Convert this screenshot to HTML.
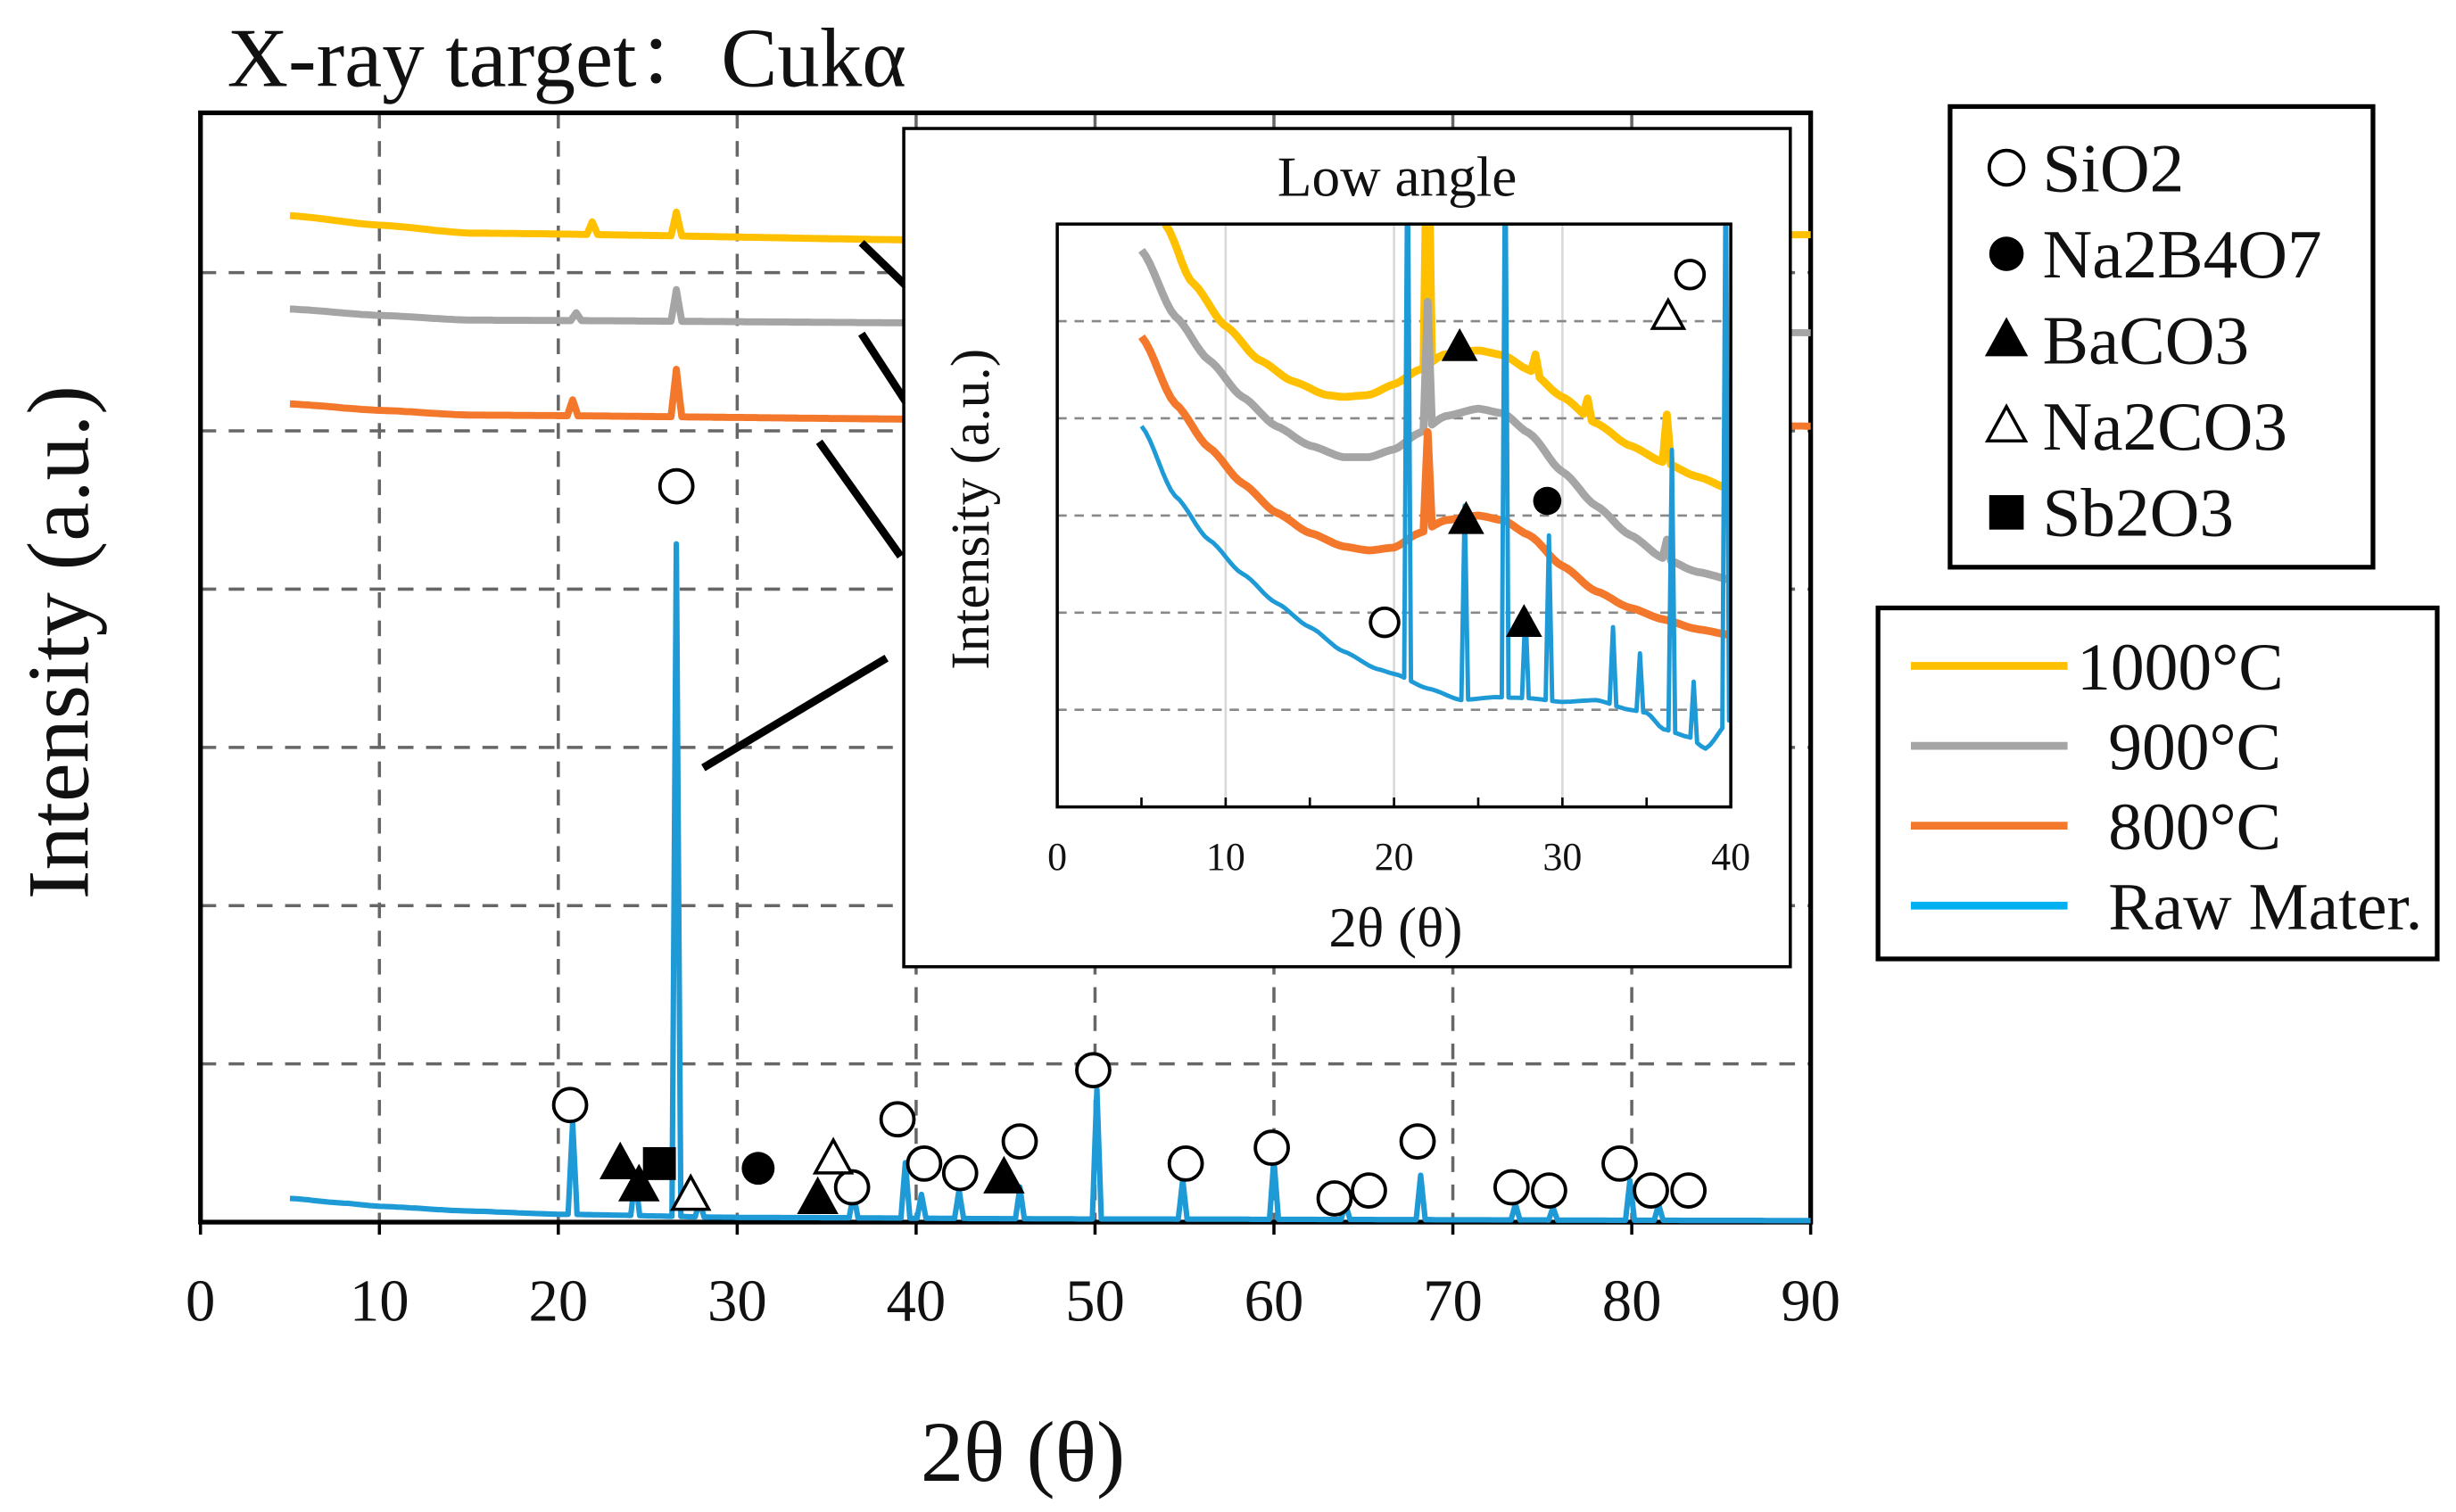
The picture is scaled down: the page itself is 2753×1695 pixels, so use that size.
<!DOCTYPE html>
<html><head><meta charset="utf-8"><style>
html,body{margin:0;padding:0;background:#fff;}
svg{display:block;}
text{font-family:"Liberation Serif","Noto Serif CJK SC",serif;fill:#111;}
</style></head><body>
<svg id="chart" width="2753" height="1695" viewBox="0 0 1568 965" preserveAspectRatio="none" xmlns="http://www.w3.org/2000/svg">
<rect width="1568" height="965" fill="#fff"/>
<text x="145" y="55" font-size="54">X-ray target：Cukα</text>
<text transform="translate(56,410) rotate(-90)" text-anchor="middle" font-size="56">Intensity (a.u.)</text>
<text x="653" y="945" text-anchor="middle" font-size="55">2θ (θ)</text>
<g id="main"></g>
<g id="conn"></g>
<g id="inset"></g>
<g id="legend"></g>
</svg>
<script>
const NS='http://www.w3.org/2000/svg';
// ---------- main chart data ----------
const mainTicks=[0,10,20,30,40,50,60,70,80,90];
const blueBaseX=[5,8,10,15,20,30,50,90];
const blueBaseY=[0.15,0.12,0.10,0.07,0.05,0.03,0.02,0.01];
const bluePeakX=[20.8,24.3,26.6,27.9,36.5,39.4,40.3,42.4,45.8,50.1,54.9,60.0,64.0,68.2,73.5,75.6,79.9,81.5];
const bluePeakH=[0.58,0.25,4.25,0.1,0.15,0.35,0.15,0.18,0.2,0.82,0.25,0.38,0.1,0.28,0.1,0.08,0.25,0.1];
const yelBaseX=[5,10,15,45,90];const yelBaseY=[6.36,6.3,6.25,6.2,6.24];
const yelPeakX=[21.9,26.6];const yelPeakH=[0.08,0.15];
const grayBaseX=[5,10,15,45,90];const grayBaseY=[5.77,5.73,5.7,5.68,5.62];
const grayPeakX=[21.0,26.6];const grayPeakH=[0.05,0.2];
const orgBaseX=[5,10,15,45,90];const orgBaseY=[5.17,5.13,5.1,5.07,5.03];
const orgPeakX=[20.8,26.6];const orgPeakH=[0.1,0.3];
const mkType=['oc','oc','oc','oc','oc','oc','oc','oc','oc','oc','oc','oc','oc','oc','oc','oc','oc','oc','ft','ft','ft','ft','sq','fc','ot','ot'];
const mkX=[20.66,26.6,38.96,40.45,42.46,45.79,49.9,55.07,59.88,63.39,65.31,68.03,73.28,75.38,79.32,81.07,83.17,36.42,23.46,24.51,34.5,44.91,25.65,31.17,27.4,35.37];
const mkY=[0.74,4.65,0.65,0.37,0.31,0.51,0.96,0.37,0.47,0.15,0.2,0.51,0.22,0.2,0.37,0.2,0.2,0.22,0.37,0.23,0.15,0.28,0.37,0.34,0.17,0.4];
// ---------- inset data ----------
const inTicks=[0,10,20,30,40];
const iYelX=[6.4,8,10,12,14,16,17,18.5,20,21.5,23,25,26.5,28,30,32,34,36,38,40];
const iYelY=[6.0,5.4,4.95,4.6,4.38,4.24,4.22,4.24,4.35,4.5,4.66,4.7,4.65,4.5,4.22,3.95,3.72,3.55,3.4,3.27];
const iYelPX=[22,28.4,31.5,36.2];const iYelPH=[3,0.2,0.2,0.5];
const iGrayX=[5,7,9,11,13,15,17,18.5,20,21.5,23,25,26.5,28,30,32,34,36,38,40];
const iGrayY=[5.73,5.05,4.6,4.22,3.92,3.72,3.6,3.6,3.68,3.85,4.02,4.1,4.05,3.85,3.45,3.1,2.8,2.56,2.42,2.34];
const iGrayPX=[22,36.2];const iGrayPH=[1.3,0.2];
const iOrgX=[5,7,9,11,13,15,17,18.5,20,21.5,23,25,26.5,28,30,32,34,36,38,40];
const iOrgY=[4.84,4.15,3.7,3.33,3.03,2.82,2.68,2.64,2.67,2.82,2.95,3.0,2.95,2.8,2.48,2.22,2.05,1.93,1.83,1.77];
const iOrgPX=[22];const iOrgPH=[1.0];
const iBlueX=[5,7,9,11,13,15,17,19,20,22,24,26,28,30,32,34,35,36,37.5,38.5,40];
const iBlueY=[3.92,3.2,2.75,2.4,2.1,1.85,1.6,1.42,1.37,1.22,1.1,1.13,1.12,1.08,1.1,1.0,0.97,0.8,0.72,0.6,0.9];
const iBluePX=[20.8,24.2,26.6,27.8,29.2,33,34.6,36.5,37.8,39.7];
const iBluePH=[6,2.0,6,0.9,1.7,0.8,0.6,2.9,0.6,6];
const iMkType=['oc','oc','ft','ft','ft','fc','ot'];
const iMkX=[19.44,37.58,23.9,24.28,27.72,29.1,36.28];
const iMkY=[1.9,5.48,4.73,2.95,1.89,3.15,5.05];

function el(tag,attrs,parent){const e=document.createElementNS(NS,tag);for(const k in attrs)e.setAttribute(k,attrs[k]);if(parent)parent.appendChild(e);return e;}
function interp(xs,ys,x){if(x<=xs[0])return ys[0];for(let i=1;i<xs.length;i++){if(x<=xs[i]){const t=(x-xs[i-1])/(xs[i]-xs[i-1]);const s=t*t*(3-2*t);const tt=(t+s)/2;return ys[i-1]+tt*(ys[i]-ys[i-1]);}}return ys[ys.length-1];}
function series(bx,by,px,ph,x0,x1,w){const pts=[];const xs=new Set();for(let x=x0;x<=x1+1e-9;x+=0.25)xs.add(+x.toFixed(2));px.forEach(p=>{xs.add(+(p-w).toFixed(3));xs.add(p);xs.add(+(p+w).toFixed(3));});
 const arr=[...xs].filter(x=>x>=x0&&x<=x1).sort((a,b)=>a-b);
 arr.forEach(x=>{let v=interp(bx,by,x);px.forEach((p,i)=>{const d=Math.abs(x-p);if(d<w)v+=ph[i]*(1-d/w);});pts.push([x,v]);});return pts;}
function marker(g,type,cx,cy,r,name){let m;
 if(type==='oc')m=el('circle',{cx,cy,r,fill:'#fff',stroke:'#000','stroke-width':2.2},g);
 else if(type==='fc')m=el('circle',{cx,cy,r,fill:'#000'},g);
 else if(type==='sq')m=el('rect',{x:cx-r,y:cy-r,width:2*r,height:2*r,fill:'#000'},g);
 else{const h=r*1.9;m=el('polygon',{points:`${cx},${cy-h*0.6} ${cx-r*1.1},${cy+h*0.45} ${cx+r*1.1},${cy+h*0.45}`,fill:type==='ft'?'#000':'#fff',stroke:'#000','stroke-width':2},g);}
 
 }

// ---------- main ----------
const M={x0:128,x1:1156,y0:72,y1:780};
const mx=v=>M.x0+(v/90)*(M.x1-M.x0);
const my=v=>M.y1-v*101;
const g=document.getElementById('main');
mainTicks.forEach(t=>{
 if(t>0&&t<90){const l=el('line',{x1:mx(t),x2:mx(t),y1:M.y0,y2:M.y1,stroke:'#666','stroke-width':2,'stroke-dasharray':'10,8'},g);
  }
 const tk=el('line',{x1:mx(t),x2:mx(t),y1:M.y1,y2:M.y1+8,stroke:'#000','stroke-width':2},g);
 
 const tx=el('text',{x:mx(t),y:843,'text-anchor':'middle','font-size':38},g);tx.textContent=t;
 
});
for(let k=1;k<=6;k++){const l=el('line',{x1:M.x0,x2:M.x1,y1:my(k),y2:my(k),stroke:'#666','stroke-width':2,'stroke-dasharray':'10,8'},g);
 }
const frame=el('rect',{x:M.x0,y:M.y0,width:M.x1-M.x0,height:M.y1-M.y0,fill:'none',stroke:'#000','stroke-width':3},g);

function drawMain(pts,color,name,sw){const d=pts.map((p,i)=>(i?'L':'M')+mx(p[0]).toFixed(1)+','+my(p[1]).toFixed(1)).join('');
 const p=el('path',{d,fill:'none',stroke:color,'stroke-width':sw,'stroke-linejoin':'round'},g);
 }
drawMain(series(yelBaseX,yelBaseY,yelPeakX,yelPeakH,5,90,0.3),'#ffc000','line-1000c',4.5);
drawMain(series(grayBaseX,grayBaseY,grayPeakX,grayPeakH,5,90,0.3),'#a5a5a5','line-900c',4.5);
drawMain(series(orgBaseX,orgBaseY,orgPeakX,orgPeakH,5,90,0.3),'#f4782b','line-800c',4.5);
drawMain(series(blueBaseX,blueBaseY,bluePeakX,bluePeakH,5,90,0.25),'#1e9ad6','line-raw-material',3.5);
mkType.forEach((t,i)=>marker(g,t,mx(mkX[i]),my(mkY[i]),10.5,'phase-marker-'+i));

// connectors
const cg=document.getElementById('conn');
[[550,155,578,182],[550,213,578,256],[523,282,575,355],[449,490,566,420]].forEach((c,i)=>{
 const l=el('line',{x1:c[0],y1:c[1],x2:c[2],y2:c[3],stroke:'#000','stroke-width':5},cg);
 });

// ---------- inset ----------
const ig=document.getElementById('inset');
const ibox=el('rect',{x:577,y:82,width:566,height:535,fill:'#fff',stroke:'#000','stroke-width':2},ig);

const I={x0:675,x1:1105,y0:143,y1:515};
const ix=v=>I.x0+(v/40)*(I.x1-I.x0);
const iy=v=>I.y1-v*62;
const it=el('text',{x:892,y:125,'text-anchor':'middle','font-size':36},ig);it.textContent='Low angle';

const iyl=el('text',{transform:'translate(631,325) rotate(-90)','text-anchor':'middle','font-size':35},ig);iyl.textContent='Intensity (a.u.)';

const ixl=el('text',{x:891,y:604,'text-anchor':'middle','font-size':36},ig);ixl.textContent='2θ (θ)';

inTicks.forEach(t=>{
 if(t>0&&t<40){const l=el('line',{x1:ix(t),x2:ix(t),y1:I.y0,y2:I.y1,stroke:'#d9d9d9','stroke-width':1.5},ig);
  }
 const tx=el('text',{x:ix(t),y:555,'text-anchor':'middle','font-size':25},ig);tx.textContent=t;
 
});
for(let t=5;t<40;t+=5){const tk=el('line',{x1:ix(t),x2:ix(t),y1:I.y1,y2:I.y1-6,stroke:'#000','stroke-width':1.5},ig);
 }
for(let k=1;k<=5;k++){const l=el('line',{x1:I.x0,x2:I.x1,y1:iy(k),y2:iy(k),stroke:'#888','stroke-width':1.5,'stroke-dasharray':'6,5'},ig);
 }
const defs=el('defs',{},ig);const cp=el('clipPath',{id:'iclip'},defs);el('rect',{x:I.x0,y:I.y0,width:I.x1-I.x0,height:I.y1-I.y0},cp);
const ic=el('g',{'clip-path':'url(#iclip)'},ig);
function drawIn(pts,color,name,sw){const d=pts.map((p,i)=>(i?'L':'M')+ix(p[0]).toFixed(1)+','+iy(p[1]).toFixed(1)).join('');
 const p=el('path',{d,fill:'none',stroke:color,'stroke-width':sw,'stroke-linejoin':'round'},ic);
 }
drawIn(series(iYelX,iYelY,iYelPX,iYelPH,6.4,40,0.25),'#ffc000','inset-line-1000c',5);
drawIn(series(iGrayX,iGrayY,iGrayPX,iGrayPH,5,40,0.25),'#a5a5a5','inset-line-900c',5);
drawIn(series(iOrgX,iOrgY,iOrgPX,iOrgPH,5,40,0.25),'#f4782b','inset-line-800c',5);
drawIn(series(iBlueX,iBlueY,iBluePX,iBluePH,5,40,0.2),'#1e9ad6','inset-line-raw-material',2.8);
const iframe=el('rect',{x:I.x0,y:I.y0,width:I.x1-I.x0,height:I.y1-I.y0,fill:'none',stroke:'#000','stroke-width':2},ig);

iMkType.forEach((t,i)=>marker(ig,t,ix(iMkX[i]),iy(iMkY[i]),9,'inset-phase-marker-'+i));

// ---------- legends ----------
const lg=document.getElementById('legend');
const lb1=el('rect',{x:1245,y:68,width:270,height:294,fill:'#fff',stroke:'#000','stroke-width':3},lg);

const phaseNames=['SiO2','Na2B4O7','BaCO3','Na2CO3','Sb2O3'];const phaseTypes=['oc','fc','ft','ot','sq'];
phaseNames.forEach((n,i)=>{const y=107+i*55;marker(lg,phaseTypes[i],1281,y,11,'legend-marker-'+n.toLowerCase());
 const t=el('text',{x:1304,y:y+15,'font-size':44},lg);t.textContent=n;
 });
const lb2=el('rect',{x:1199,y:388,width:357,height:224,fill:'#fff',stroke:'#000','stroke-width':3},lg);

const serNames=['1000°C','900°C','800°C','Raw Mater.'];const serCols=['#ffc000','#a5a5a5','#f4782b','#00b0f0'];const serX=[1326,1346,1346,1346];
serNames.forEach((n,i)=>{const y=425+i*51;const l=el('line',{x1:1220,x2:1320,y1:y,y2:y,stroke:serCols[i],'stroke-width':5},lg);
 
 const t=el('text',{x:serX[i],y:y+15,'font-size':43},lg);t.textContent=n;
 });
</script>
</body></html>
